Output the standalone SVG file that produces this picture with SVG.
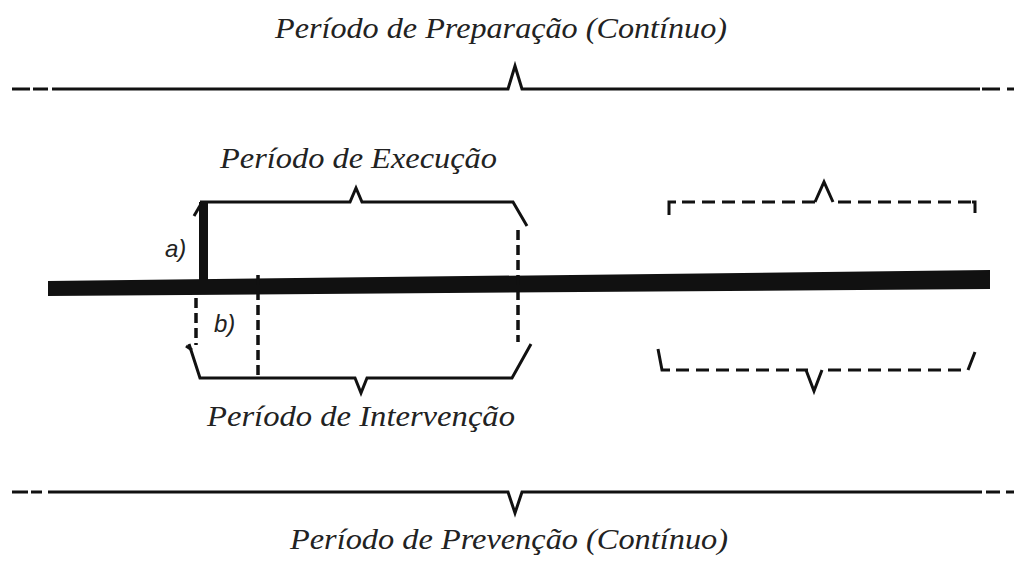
<svg xmlns="http://www.w3.org/2000/svg" width="1014" height="561" viewBox="0 0 1014 561">
<style>
.t{font-family:"Liberation Serif","DejaVu Serif",serif;font-style:italic;font-size:29px;fill:#222}
.l{font-family:"Liberation Sans","DejaVu Sans",sans-serif;font-style:italic;font-size:24px;fill:#222}
.s{fill:none;stroke:#111;stroke-width:3;stroke-linejoin:miter;stroke-linecap:butt}
.d{fill:none;stroke:#111;stroke-width:3;stroke-dasharray:13 7}
.dv{fill:none;stroke:#111;stroke-width:3.5;stroke-dasharray:10 5}
</style>
<rect width="1014" height="561" fill="#fff"/>
<g id="preparacao">
<text class="t" x="275" y="38" textLength="452" lengthAdjust="spacingAndGlyphs">Período de Preparação (Contínuo)</text>
<path class="s" d="M12,89 H30 M33,89 H48 M52,89 H508 L515,66 L522,89 H980 M982,89 H1000 M1007,89 H1014"/>
</g>
<g id="prevencao">
<text class="t" x="290" y="549" textLength="438" lengthAdjust="spacingAndGlyphs">Período de Prevenção (Contínuo)</text>
<path class="s" d="M12,492 H28 M31,492 H42 M48,492 H508 L515,513 L522,492 H982 M986,492 H1000 M1006,492 H1014"/>
</g>
<g id="linha-tempo">
<polygon points="48,281 990,270 990,289 48,296" fill="#111"/>
</g>
<g id="execucao">
<text class="t" x="220" y="168" textLength="277" lengthAdjust="spacingAndGlyphs">Período de Execução</text>
<path class="s" d="M200,202 H350 L356,188 L362,202 H513 L527,226"/>
</g>
<g id="intervencao">
<text class="t" x="207" y="426" textLength="308" lengthAdjust="spacingAndGlyphs">Período de Intervenção</text>
<path class="s" d="M189,344 L200,378 H355 L361,393 L367,378 H512 L531,344"/>
<path class="s" d="M186,346 L192,350"/>
</g>
<g id="label-a">
<text class="l" x="165" y="257">a)</text>
<rect x="199" y="202" width="9" height="84" fill="#111"/>
<path class="s" d="M201,204 L194,216" stroke-width="4"/>
</g>
<g id="label-b">
<text class="l" x="214" y="332">b)</text>
</g>
<g id="futuro-execucao">
<path class="s" d="M669,215 V202 H676 M972,202 H975 V213"/>
<path class="d" d="M682,202 H818"/>
<path class="s" d="M815,202 L824,182 L833,202"/>
<path class="d" d="M838,202 H972"/>
</g>
<g id="futuro-intervencao">
<path class="s" d="M658,349 L662,370 H670 M968,370 L975,352"/>
<path class="d" d="M676,370 H808"/>
<path class="s" d="M806,370 L814,391 L822,370"/>
<path class="d" d="M828,370 H966"/>
</g>
<g id="connectors">
<path class="dv" d="M518,230 V342"/>
<path class="dv" d="M196,298 V345"/>
<path class="dv" d="M258,275 V378"/>
</g>
</svg>
